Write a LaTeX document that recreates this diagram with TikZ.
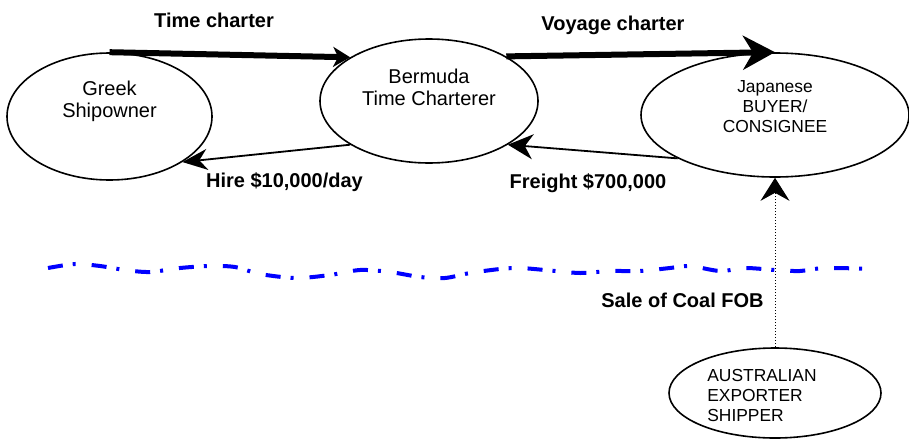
\documentclass[tikz,border=0pt]{standalone}
\usepackage{fontspec}
\setmainfont{Liberation Sans}
\usepackage{tikz}
\usetikzlibrary{positioning}
\usetikzlibrary{shapes.geometric, arrows.meta}
\tikzstyle{party} = [ellipse,draw,line width=0.8pt,inner sep=0pt]
\tikzstyle{partytext} = [align=center,font=\fontsize{10}{11}\selectfont]
\tikzstyle{smalltext} = [font=\fontsize{8.7}{9.9}\selectfont]
\tikzstyle{charter} = [line width=3pt]
\tikzstyle{payment} = [line width=0.9pt,-{Stealth[length=12.5pt,width=10.5pt,inset=4pt]}]
\tikzstyle{deal} = [font=\bfseries\fontsize{10}{12}\selectfont,anchor=base]

\begin{document}
\begin{tikzpicture}[x=0.5pt,y=-0.5pt]
	\useasboundingbox (0,0) rectangle (909,439);
	% the four parties
	\node[party,minimum width=102.5pt,minimum height=63.5pt] (greek) at (109.5,116.5) {};
	\node[party,minimum width=109pt,minimum height=62pt] (bermuda) at (429,101) {};
	\node[party,minimum width=134pt,minimum height=62pt] (japan) at (775,115) {};
	\node[party,minimum width=106pt,minimum height=45pt] (aussie) at (775,393) {};
	\node[partytext] (greek text) at ([yshift=7.75pt]greek.center) {Greek\\Shipowner};
	\node[partytext] (bermuda text) at ([yshift=7pt]bermuda.center) {Bermuda\\Time Charterer};
	\node[smalltext,align=center] (japan text) at ([yshift=4.25pt]japan.center) {Japanese\\BUYER/\\CONSIGNEE};
	\node[smalltext,align=left] (aussie text) at ([xshift=-6.5pt,yshift=-1.25pt]aussie.center) {AUSTRALIAN\\EXPORTER\\SHIPPER};
	% contracts and payments
	\draw[charter,-{Stealth[length=8.5pt,width=10pt,inset=2.5pt]}] (greek.north) -- (bermuda.151.6);
	\draw[charter,-{Stealth[length=16pt,width=17pt,inset=5pt]}] (bermuda.30.3) -- (japan.north);
	\draw[payment] (bermuda.209.7) -- (greek.328.5);
	\draw[payment,-{Stealth[length=12.5pt,width=12.5pt,inset=4pt]}] (japan.204.4) -- (bermuda.331.1);
	\draw[line width=0.5pt,densely dotted,-{Stealth[length=11.5pt,width=14.5pt,inset=4pt]}] (aussie.north) -- (japan.south);
	\node[deal] (tc label) at (214,27.5) {Time charter};
	\node[deal] (vc label) at (613,30) {Voyage charter};
	\node[deal] (hire label) at (284.5,187) {Hire \$10,000/day};
	\node[deal] (freight label) at (588,188) {Freight \$700,000};
	\node[deal] (fob label) at (682.5,307) {Sale of Coal FOB};
	% dividing line
	\draw[blue,line width=2pt,dash pattern=on 7.5pt off 5pt on 1.5pt off 8pt] plot[smooth] coordinates {
		(48,268) (75,264) (100,266) (125,270) (150,272) (180,268) (210,266) (235,267)
		(260,274) (296,278) (330,275) (360,270) (390,272) (420,277) (445,278) (470,273)
		(500,269) (520,268) (545,270) (580,273) (610,271) (640,271) (670,268) (690,266)
		(720,271) (745,268) (775,270) (800,271) (825,268) (876,269)};
\end{tikzpicture}
\end{document}
